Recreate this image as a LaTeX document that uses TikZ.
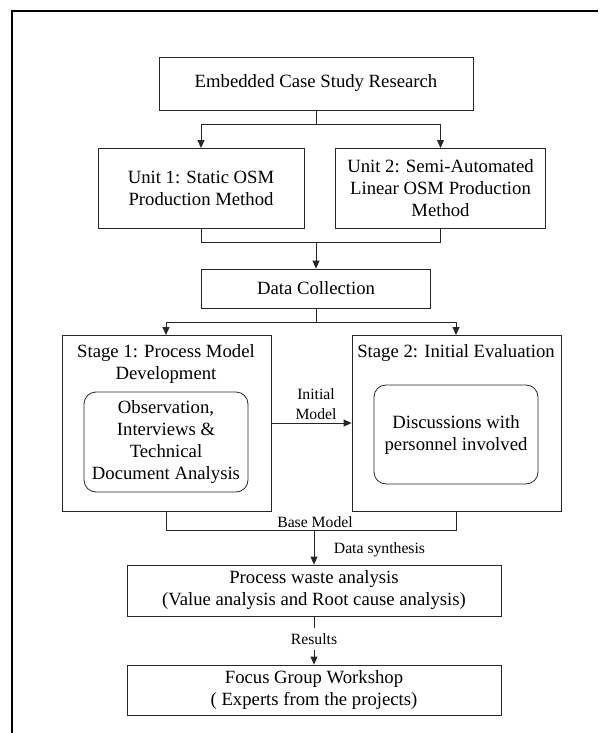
\documentclass[tikz,border=0pt]{standalone}
\usepackage{fontspec}
\setmainfont{Liberation Serif}
\usetikzlibrary{arrows.meta}
\tikzset{
  box/.style={draw=black!85, line width=0.8pt, inner sep=0pt, align=center,
    font=\fontsize{18.7}{22}\selectfont},
  rbox/.style={box, rounded corners=12pt},
  lbl/.style={inner sep=0pt, align=center, font=\fontsize{15.7}{20}\selectfont},
  ttl/.style={inner sep=0pt, align=center, font=\fontsize{18.7}{22}\selectfont},
  conn/.style={draw=black!85, line width=0.8pt},
  arr/.style={conn, -{Triangle[length=8pt,width=7pt]}},
}
\begin{document}
\begin{tikzpicture}[x=1pt,y=-1pt]
\useasboundingbox (0,0) rectangle (598,733);
% outer frame
\draw[line width=1.5pt] (12,733) -- (12,11) -- (598,11);

% nodes
\node[box, minimum width=314pt, minimum height=53pt] (emb) at (316,83.5) {Embedded Case Study Research};
\node[box, minimum width=206pt, minimum height=80pt] (u1) at (201,188) {Unit 1: Static OSM\\Production Method};
\node[box, minimum width=210pt, minimum height=80pt] (u2) at (440.5,188) {Unit 2: Semi-Automated\\Linear OSM Production\\Method};
\node[box, minimum width=229pt, minimum height=39pt] (data) at (316,288.5) {Data Collection};
\node[box, minimum width=209pt, minimum height=176pt] (st1) at (166.5,423) {};
\node[box, minimum width=209pt, minimum height=176pt] (st2) at (456.5,423) {};
\node[ttl] (t1) at (166,364) {Stage 1: Process Model\\Development};
\node[ttl] (t2) at (456,353) {Stage 2: Initial Evaluation};
\node[rbox, minimum width=164pt, minimum height=100pt] (in1) at (166,442) {Observation,\\Interviews \&\\Technical\\Document Analysis};
\node[rbox, minimum width=164pt, minimum height=99pt] (in2) at (456,434.5) {Discussions with\\personnel involved};
\node[box, minimum width=374pt, minimum height=51pt] (proc) at (314,590.5) {Process waste analysis\\(Value analysis and Root cause analysis)};
\node[box, minimum width=374pt, minimum height=50pt] (focus) at (314,690) {Focus Group Workshop\\( Experts from the projects)};

% coordinates
\coordinate (j1) at (316,124);
\coordinate (u1in) at (201,148);
\coordinate (u2in) at (440.5,148);
\coordinate (m1) at (201,242);
\coordinate (m2) at (440.5,242);
\coordinate (j2) at (316,242);
\coordinate (j3) at (316,322);
\coordinate (s1in) at (166,335);
\coordinate (s2in) at (456,335);
\coordinate (s1out) at (166,511);
\coordinate (s2out) at (456,511);
\coordinate (b1) at (166,530);
\coordinate (b2) at (456,530);
\coordinate (bm) at (314,530);

% connectors
\draw[conn] (emb.south) -- (j1);
\draw[arr] (j1) -| (u1in);
\draw[arr] (j1) -| (u2in);
\draw[conn] (u1.south) -- (m1) -- (m2) -- (u2.south);
\draw[arr] (j2) -- (data.north);
\draw[conn] (data.south) -- (j3);
\draw[arr] (j3) -| (s1in);
\draw[arr] (j3) -| (s2in);
\draw[arr] (st1.east) -- (st2.west);
\node[lbl] (lim) at (316,404) {Initial\\Model};
\draw[conn] (s1out) -- (b1) -- (b2) -- (s2out);
\node[lbl] (lbm) at (315,522) {Base Model};
\draw[arr] (bm) -- (proc.north);
\node[lbl] (lds) at (379.5,550) {Data synthesis};
\draw[arr] (proc.south) -- (focus.north) node[lbl, midway, fill=white, inner sep=5pt, yshift=1.5pt] (lres) {Results};
\end{tikzpicture}
\end{document}
